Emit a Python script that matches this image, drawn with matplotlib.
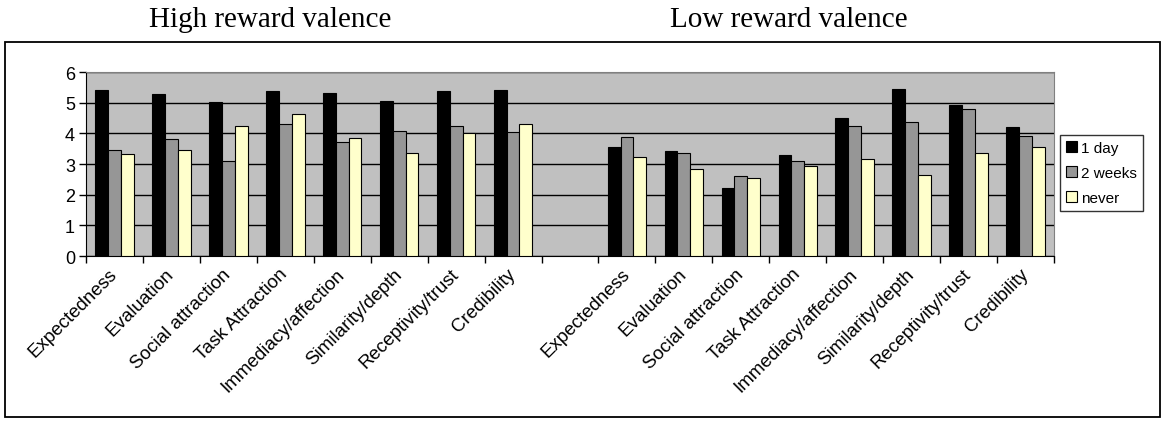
import numpy as np
import matplotlib
matplotlib.use("Agg")
import matplotlib.pyplot as plt
from matplotlib.patches import Rectangle
from matplotlib.transforms import ScaledTranslation

# Data
categories = ["Expectedness", "Evaluation", "Social attraction", "Task Attraction",
              "Immediacy/affection", "Similarity/depth", "Receptivity/trust", "Credibility"]
series = ["1 day", "2 weeks", "never"]

high_1day = [5.40, 5.27, 5.03, 5.37, 5.32, 5.06, 5.37, 5.40]
high_2weeks = [3.47, 3.80, 3.11, 4.32, 3.71, 4.06, 4.23, 4.05]
high_never = [3.33, 3.46, 4.23, 4.62, 3.85, 3.37, 4.01, 4.31]

low_1day = [3.56, 3.42, 2.21, 3.30, 4.50, 5.44, 4.93, 4.20]
low_2weeks = [3.89, 3.37, 2.61, 3.11, 4.23, 4.36, 4.80, 3.90]
low_never = [3.24, 2.85, 2.55, 2.95, 3.15, 2.64, 3.36, 3.55]

group_titles = ["High reward valence", "Low reward valence"]

colors = ["#000000", "#969696", "#FFFFCC"]

plt.rcParams['font.family'] = ['Liberation Sans', 'DejaVu Sans']

fig = plt.figure(figsize=(11.65, 4.27), dpi=100)

# outer chart frame
fig.patches.append(Rectangle((5 / 1165, 1 - 418 / 427), 1155 / 1165, 375 / 427,
                             transform=fig.transFigure, fill=False,
                             edgecolor="black", linewidth=1.3))

ax = fig.add_axes([86 / 1165, 1 - 257 / 427, 968 / 1165, 184 / 427])
ax.set_facecolor("#C0C0C0")

n = len(categories)
x_high = np.arange(n)
x_low = np.arange(n) + n + 1
x_all = np.concatenate([x_high, x_low])
width = 0.225

vals = [high_1day + low_1day, high_2weeks + low_2weeks, high_never + low_never]
for i, (name, v, c) in enumerate(zip(series, vals, colors)):
    ax.bar(x_all + (i - 1) * width, v, width, color=c, edgecolor="black",
           linewidth=0.8, label=name, zorder=3)

ax.set_xlim(-0.5, 2 * n + 0.5)
ax.set_ylim(0, 6)
ax.set_yticks(range(0, 7))
ax.yaxis.grid(True, color="black", linewidth=1.0, zorder=1)
ax.set_axisbelow(True)

# tick marks on slot boundaries, labels on slot centres
ax.set_xticks(np.arange(-0.5, 2 * n + 1, 1.0))
ax.set_xticklabels([])
ax.set_xticks(x_all, minor=True)
ax.set_xticklabels(categories + categories, minor=True, rotation=45, ha="right",
                   va="center", rotation_mode="anchor", fontsize=13.5)
shift = ScaledTranslation(-17 / 100, 0, fig.dpi_scale_trans)
for lab in ax.get_xticklabels(minor=True):
    lab.set_transform(lab.get_transform() + shift)
ax.tick_params(axis="x", which="minor", length=0, pad=11)
ax.tick_params(axis="x", which="major", length=5, width=1, direction="out")
ax.tick_params(axis="y", length=5, width=1, direction="out", labelsize=13, pad=3)

for side in ["top", "right"]:
    ax.spines[side].set_color("#808080")
ax.spines["left"].set_color("black")
ax.spines["bottom"].set_color("black")

leg = fig.legend(loc="upper left", bbox_to_anchor=(1060 / 1165, 1 - 136 / 427),
                 fontsize=11, frameon=True, fancybox=False, edgecolor="black",
                 handlelength=0.7, handleheight=0.7, handletextpad=0.3,
                 labelspacing=0.7, borderpad=0.4, borderaxespad=0)
leg.get_frame().set_linewidth(1.0)

for title, cx in zip(group_titles, [270 / 1165, 789 / 1165]):
    fig.text(cx, 1 - 20 / 427, title, ha="center", va="center",
             family=["Liberation Serif", "DejaVu Serif"], fontsize=21)

fig.savefig("out.png", dpi=100)
